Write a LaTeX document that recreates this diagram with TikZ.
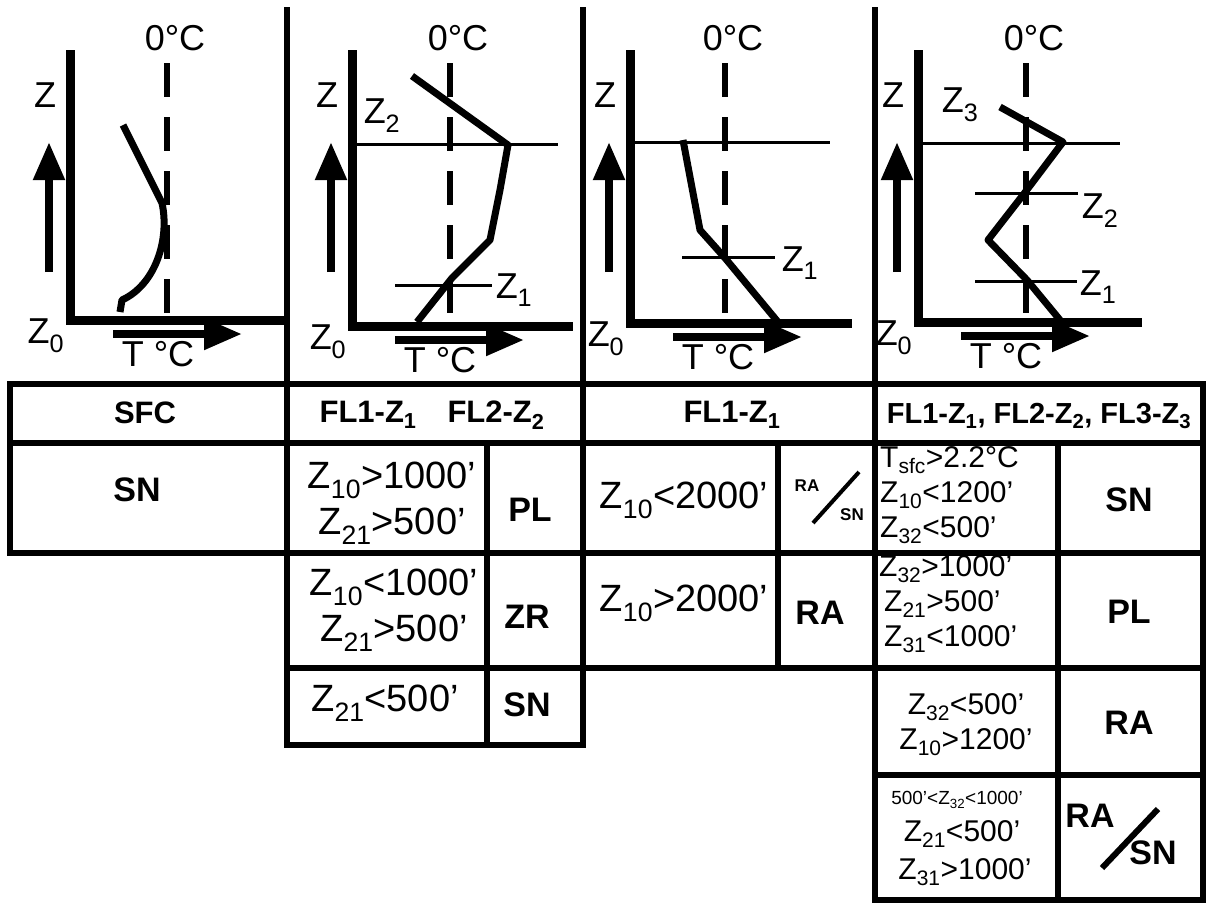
\documentclass[tikz,border=0pt]{standalone}
\usepackage{fontspec}
\setmainfont{Liberation Sans}
\usetikzlibrary{arrows.meta}
\newcommand{\zsub}[1]{\textsubscript{#1}}
\begin{document}
\begin{tikzpicture}[x=1pt,y=-1pt,
  axis/.style={line width=9pt},
  rule/.style={line width=6pt,line cap=rect},
  level/.style={line width=3pt},
  profile/.style={line width=7pt,line join=round},
  zeroline/.style={line width=6pt,dash pattern=on 34pt off 20pt},
  zarrow/.style={line width=8pt,-{Triangle[length=38pt,width=30pt]}},
  lab/.style={font=\fontsize{36}{40}\selectfont,inner sep=0pt},
  cond/.style={font=\fontsize{38}{46}\selectfont,align=center,inner sep=0pt},
  small/.style={font=\fontsize{30}{35}\selectfont,align=left,inner sep=0pt},
  head/.style={font=\fontsize{31}{34}\selectfont\bfseries,inner sep=0pt},
  wx/.style={font=\fontsize{34}{36}\selectfont\bfseries,inner sep=0pt}]

\useasboundingbox (0,0) rectangle (1207,905);

\foreach \ax/\ab/\ar/\dx/\n in {70/320/288/167/1,352/326/573/450/2,630/323/852/725/3,918/322/1142/1026/4}{
  \draw[axis] (\ax,50) -- (\ax,\ab) -- (\ar,\ab);
  \draw[zeroline] (\dx,63) -- (\dx,\ab);
  \draw[zarrow] ({\ax-21},272) -- ({\ax-21},142);
  \draw[zarrow] ({\ax+43},{\ab+14}) -- ({\ax+172},{\ab+14});
  \node[lab] (z\n) at ({\ax-25},95) {Z};
  \node[lab] (zo\n) at ({\ax-24},{\ab+16}) {Z\zsub{0}};
  \node[lab] (t\n) at ({\ax+88},{\ab+34}) {T °C};
  \node[lab] (c\n) at ({\dx+8},38) {0°C};
}

\draw[profile] (123,125) -- (162,203) .. controls (170,240) and (155,285) .. (122,300) -- (120,312);

\draw[level] (352,144) -- (558,144);
\draw[level] (395,285) -- (492,285);
\draw[profile] (412,76) -- (508,145) -- (500,190) -- (490,240) -- (452,278) -- (417,322);
\node[lab] (zb2) at (382,116) {Z\zsub{2}};
\node[lab] (za2) at (514,290) {Z\zsub{1}};

\draw[level] (630,142) -- (830,142);
\draw[level] (682,257) -- (775,257);
\draw[profile] (683,140) -- (700,230) -- (725,258) -- (778,322);
\node[lab] (za3) at (800,263) {Z\zsub{1}};

\draw[level] (918,143) -- (1120,143);
\draw[level] (975,193) -- (1078,193);
\draw[level] (975,281) -- (1077,281);
\draw[profile] (1000,107) -- (1063,142) -- (1023,195) -- (988,240) -- (1027,280) -- (1060,320);
\node[lab] (zc4) at (960,105) {Z\zsub{3}};
\node[lab] (zb4) at (1100,211) {Z\zsub{2}};
\node[lab] (za4) at (1098,287) {Z\zsub{1}};

\draw[rule] (287,10) -- (287,745);
\draw[rule] (583,10) -- (583,745);
\draw[rule] (875,10) -- (875,900);
\draw[rule] (10,384) rectangle (1203,443);
\draw[rule] (10,443) -- (10,553) -- (1203,553);
\draw[rule] (287,668) -- (1203,668);
\draw[rule] (287,745) -- (583,745);
\draw[rule] (875,775) -- (1203,775);
\draw[rule] (875,900) -- (1203,900) -- (1203,443);
\draw[rule] (487,443) -- (487,745);
\draw[rule] (778,443) -- (778,668);
\draw[rule] (1058,443) -- (1058,900);

\node[head] (sfc) at (145,413) {SFC};
\node[head] (fl2) at (432,415) {FL1-Z\zsub{1}\quad FL2-Z\zsub{2}};
\node[head] (fl1) at (732,415) {FL1-Z\zsub{1}};
\node[head,font=\fontsize{29}{34}\selectfont\bfseries] (fl3) at (1039,416) {FL1-Z\zsub{1}, FL2-Z\zsub{2}, FL3-Z\zsub{3}};

\node[wx] (sn1) at (137,490) {SN};

\node[cond] (c2a) at (392,503) {Z\zsub{10}>1000'\\Z\zsub{21}>500'};
\node[wx] (pl2) at (530,510) {PL};
\node[cond] (c2b) at (394,610) {Z\zsub{10}<1000'\\Z\zsub{21}>500'};
\node[wx] (zr2) at (527,617) {ZR};
\node[cond] (c2c) at (385,703) {Z\zsub{21}<500'};
\node[wx] (sn2) at (527,705) {SN};

\node[cond] (c3a) at (684,500) {Z\zsub{10}<2000'};
\node[font=\fontsize{17}{18}\selectfont\bfseries,inner sep=0pt] (ra3) at (807,486) {RA};
\node[font=\fontsize{17}{18}\selectfont\bfseries,inner sep=0pt] (sn3) at (852,515) {SN};
\draw[line width=4pt] (813,523) -- (859,472);
\node[cond] (c3b) at (684,603) {Z\zsub{10}>2000'};
\node[wx] (ra3b) at (820,613) {RA};

\node[small,anchor=west] (c4a) at (880,495) {T\zsub{sfc}>2.2°C\\Z\zsub{10}<1200'\\Z\zsub{32}<500'};
\node[wx] (sn4) at (1129,500) {SN};
\node[small,anchor=west] (c4b) at (879,604) {Z\zsub{32}>1000'\\\,Z\zsub{21}>500'\\\,Z\zsub{31}<1000'};
\node[wx] (pl4) at (1129,612) {PL};
\node[small,align=center] (c4c) at (966,725) {Z\zsub{32}<500'\\Z\zsub{10}>1200'};
\node[wx] (ra4) at (1129,723) {RA};
\node[font=\fontsize{19}{20}\selectfont,inner sep=0pt] (c4d) at (957,800) {500'<Z\zsub{32}<1000'};
\node[small] (c4e) at (962,834) {Z\zsub{21}<500'};
\node[small] (c4f) at (965,872) {Z\zsub{31}>1000'};
\node[wx] (ra4b) at (1090,816) {RA};
\node[wx] (sn4b) at (1153,853) {SN};
\draw[line width=6pt] (1102,868) -- (1158,809);
\end{tikzpicture}
\end{document}
